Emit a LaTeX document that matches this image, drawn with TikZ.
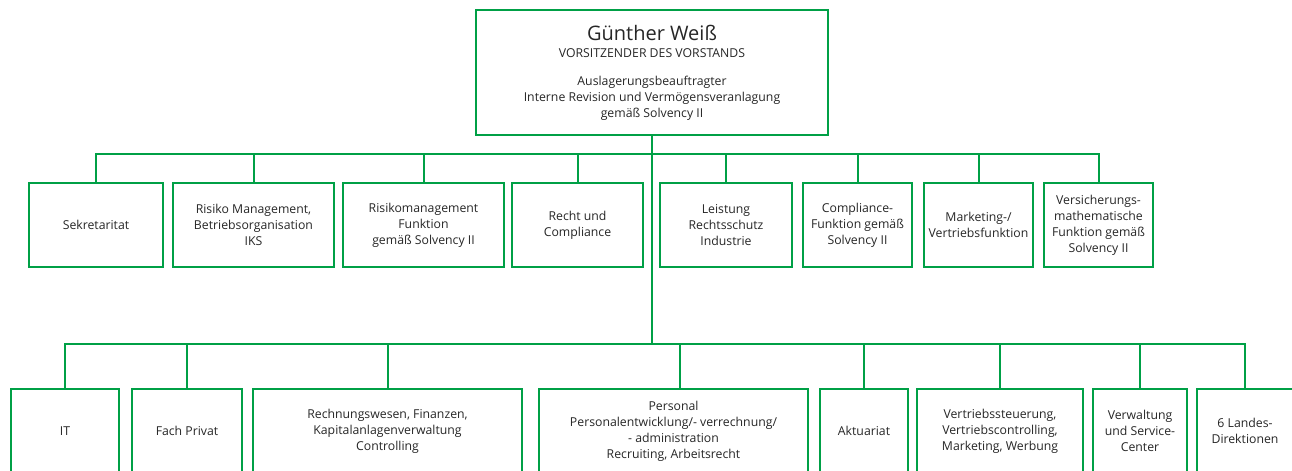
\documentclass[tikz,border=0pt]{standalone}
\usepackage{fontspec}
\setmainfont{Open Sans}
\usepackage{xcolor}
\usetikzlibrary{calc}

\definecolor{orggreen}{RGB}{0,160,70}

\begin{document}
\begin{tikzpicture}[x=0.75pt,y=-0.75pt]
			\tikzstyle{unit}=[draw=orggreen, line width=1.5pt, align=center, inner sep=0pt, text=black!85, font=\fontsize{9.2}{12}\selectfont]
			\tikzstyle{link}=[draw=orggreen, line width=1.5pt]
			\def\px{0.75pt}
			\def\rowA{225};
			\def\rowB{431};
			\def\hA{84};
			\def\hB{84};

			\clip (0,0) rectangle (1292,471);

			\begin{scope}
				\node [unit, minimum width=352*\px, minimum height=125*\px] (boss) at (652,72.5)
					{{\fontsize{15}{16}\selectfont Günther Weiß}\\[0.5pt]
					VORSITZENDER DES VORSTANDS\\[9pt]
					Auslagerungsbeauftragter\\
					Interne Revision und Vermögensveranlagung\\
					gemäß Solvency II};
				\coordinate (bus1) at ($ (boss.south) + (0,17.5) $);
				\coordinate (bus2) at ($ (boss.south) + (0,208) $);
			\end{scope}

			\begin{scope}
				\node [unit, minimum width=134*\px, minimum height=\hA*\px] (sek) at (96,\rowA) {Sekretaritat};
				\node [unit, minimum width=161*\px, minimum height=\hA*\px] (risk) at (253.5,\rowA) {Risiko Management,\\Betriebsorganisation\\IKS};
				\node [unit, minimum width=161*\px, minimum height=\hA*\px] (rmf) at (423.5,\rowA) {Risikomanagement\\Funktion\\gemäß Solvency II};
				\node [unit, minimum width=131*\px, minimum height=\hA*\px] (recht) at (577.5,\rowA) {Recht und\\Compliance};
				\node [unit, minimum width=132*\px, minimum height=\hA*\px] (leist) at (726,\rowA) {Leistung\\Rechtsschutz\\Industrie};
				\node [unit, minimum width=109*\px, minimum height=\hA*\px] (compl) at (857.5,\rowA) {Compliance-\\Funktion gemäß\\Solvency II};
				\node [unit, minimum width=109*\px, minimum height=\hA*\px] (mark) at (978.5,\rowA) {Marketing-/\\Vertriebsfunktion};
				\node [unit, minimum width=109*\px, minimum height=\hA*\px] (versm) at (1098.5,\rowA) {Versicherungs-\\mathematische\\Funktion gemäß\\Solvency II};
			\end{scope}

			\begin{scope}
				\node [unit, minimum width=108*\px, minimum height=\hB*\px] (it) at (65,\rowB) {IT};
				\node [unit, minimum width=110*\px, minimum height=\hB*\px] (fach) at (187,\rowB) {Fach Privat};
				\node [unit, minimum width=269*\px, minimum height=\hB*\px] (rewe) at (387.5,\rowB) {Rechnungswesen, Finanzen,\\Kapitalanlagenverwaltung\\Controlling};
				\node [unit, minimum width=269*\px, minimum height=\hB*\px] (pers) at (673.5,\rowB) {Personal\\Personalentwicklung/- verrechnung/\\- administration\\Recruiting, Arbeitsrecht};
				\node [unit, minimum width=88*\px, minimum height=\hB*\px] (akt) at (864,\rowB) {Aktuariat};
				\node [unit, minimum width=166*\px, minimum height=\hB*\px] (vst) at (1000,\rowB) {Vertriebssteuerung,\\Vertriebscontrolling,\\Marketing, Werbung};
				\node [unit, minimum width=94*\px, minimum height=\hB*\px] (verw) at (1140,\rowB) {Verwaltung\\und Service-\\Center};
				\node [unit, minimum width=96*\px, minimum height=\hB*\px] (lande) at (1245,\rowB) {6 Landes-\\Direktionen};
			\end{scope}

			\begin{scope}
				\draw [link] (boss.south) -- (bus2);
				\foreach \n in {sek, risk, rmf, recht, leist, compl, mark, versm}
					\draw [link] (bus1) -| (\n.north);
				\foreach \n in {it, fach, rewe, akt, vst, verw, lande}
					\draw [link] (bus2) -| (\n.north);
				\draw [link] (bus2) -| ($ (pers.north) + (6.5,0) $);
			\end{scope}
		\end{tikzpicture}
\end{document}
